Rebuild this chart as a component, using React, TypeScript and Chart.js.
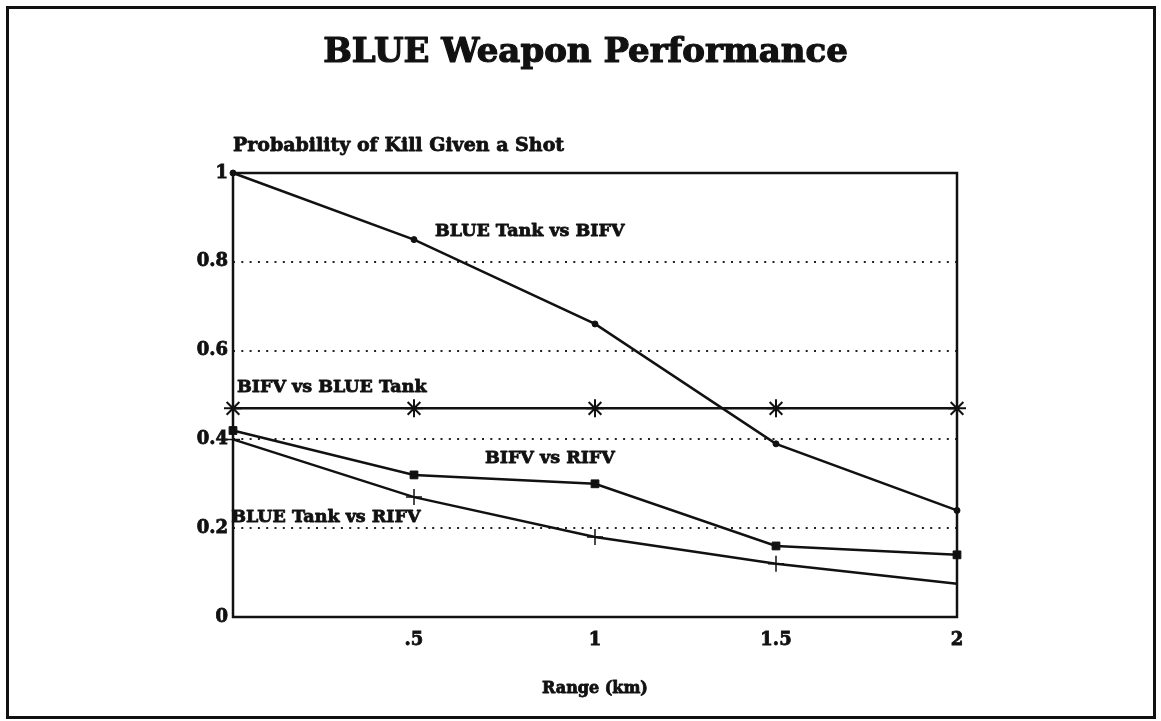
import React, { useEffect, useRef } from 'react';
import { Chart, registerables } from 'chart.js';

Chart.register(...registerables);

// ---- data ----
const ranges = [0, 0.5, 1, 1.5, 2];
const tankVsBifv = [1.0, 0.85, 0.66, 0.39, 0.24];
const bifvVsTank = [0.47, 0.47, 0.47, 0.47, 0.47];
const bifvVsRifv = [0.42, 0.32, 0.3, 0.16, 0.14];
const tankVsRifv = [0.4, 0.27, 0.18, 0.12, 0.075];
const xTickLabels = ['', '.5', '1', '1.5', '2'];
const yTickLabels = ['0', '0.2', '0.4', '0.6', '0.8', '1'];
const seriesNames = ['BLUE Tank vs BIFV', 'BIFV vs BLUE Tank', 'BIFV vs RIFV', 'BLUE Tank vs RIFV'];
// label anchors in data space (left edge, vertical middle)
const labelX = [0.558, 0.011, 0.696, -0.005];
const labelY = [0.869, 0.516, 0.356, 0.225];

const titleText = 'BLUE Weapon Performance';
const yTitleText = 'Probability of Kill Given a Shot';
const xTitleText = 'Range (km)';

const FONT = '"DejaVu Serif", "Liberation Serif", serif';
const INK = '#111111';

function heavyText(ctx: any, text: string, x: number, y: number, stroke: number) {
  ctx.lineWidth = stroke;
  ctx.lineJoin = 'round';
  ctx.strokeText(text, x, y);
  ctx.fillText(text, x, y);
}

const decorPlugin = {
  id: 'decor',
  beforeDraw(chart: any) {
    const { ctx } = chart;
    ctx.save();
    ctx.fillStyle = '#ffffff';
    ctx.fillRect(0, 0, chart.width, chart.height);
    ctx.restore();
  },
  afterDraw(chart: any) {
    const { ctx, chartArea } = chart;
    const xs = chart.scales.x;
    const ys = chart.scales.y;
    ctx.save();
    // outer border
    ctx.strokeStyle = INK;
    ctx.lineWidth = 3;
    ctx.strokeRect(7.5, 7.5, chart.width - 14, chart.height - 11);
    // plot frame
    ctx.lineWidth = 2.5;
    ctx.strokeRect(chartArea.left, chartArea.top, chartArea.right - chartArea.left, chartArea.bottom - chartArea.top);
    // title
    ctx.fillStyle = INK;
    ctx.strokeStyle = INK;
    ctx.textAlign = 'center';
    ctx.textBaseline = 'alphabetic';
    ctx.font = `bold 34px ${FONT}`;
    heavyText(ctx, titleText, chart.width / 2 + 5, 62, 1.2);
    // y title
    ctx.textAlign = 'left';
    ctx.font = `bold 19px ${FONT}`;
    heavyText(ctx, yTitleText, chartArea.left, 151, 0.8);
    // x title
    ctx.textAlign = 'center';
    ctx.font = `bold 16px ${FONT}`;
    heavyText(ctx, xTitleText, (chartArea.left + chartArea.right) / 2, 693, 0.8);
    // series labels
    ctx.textAlign = 'left';
    ctx.textBaseline = 'middle';
    ctx.font = `bold 17.5px ${FONT}`;
    seriesNames.forEach((name, i) => {
      heavyText(ctx, name, xs.getPixelForValue(labelX[i]), ys.getPixelForValue(labelY[i]), 0.8);
    });
    ctx.restore();
  },
};

export default function App() {
  const ref = useRef<HTMLCanvasElement>(null);
  useEffect(() => {
    if (!ref.current) return;
    const mk = (values: number[]) => values.map((v, i) => ({ x: ranges[i], y: v }));
    const chart = new Chart(ref.current, {
      type: 'line',
      data: {
        datasets: [
          {
            label: seriesNames[0],
            data: mk(tankVsBifv),
            borderColor: INK,
            backgroundColor: INK,
            borderWidth: 2.5,
            pointStyle: 'circle',
            pointRadius: 3,
            pointBorderWidth: 1,
            clip: false,
          },
          {
            label: seriesNames[1],
            data: mk(bifvVsTank),
            borderColor: INK,
            backgroundColor: INK,
            borderWidth: 2.5,
            pointStyle: 'star',
            pointRadius: 9,
            pointBorderWidth: 2,
            clip: false,
          },
          {
            label: seriesNames[2],
            data: mk(bifvVsRifv),
            borderColor: INK,
            backgroundColor: INK,
            borderWidth: 2.5,
            pointStyle: 'rect',
            pointRadius: 5.5,
            pointBorderWidth: 1,
            clip: false,
          },
          {
            label: seriesNames[3],
            data: mk(tankVsRifv),
            borderColor: INK,
            backgroundColor: INK,
            borderWidth: 2.5,
            pointStyle: 'cross',
            pointRadius: [7, 8, 8, 8, 0],
            pointBorderWidth: 1.5,
            clip: false,
          },
        ],
      },
      options: {
        animation: false,
        responsive: true,
        maintainAspectRatio: false,
        layout: { padding: { top: 173, right: 204, left: 0, bottom: 0 } },
        plugins: {
          legend: { display: false },
          title: { display: false },
          tooltip: { enabled: false },
        },
        scales: {
          x: {
            type: 'linear',
            min: 0,
            max: 2,
            afterFit: (s: any) => {
              s.height = 104;
            },
            grid: { display: false, drawTicks: false },
            border: { display: false },
            ticks: {
              stepSize: 0.5,
              padding: 13,
              color: INK,
              textStrokeColor: INK,
              textStrokeWidth: 0.8,
              font: { family: FONT, size: 18, weight: 'bold' },
              maxRotation: 0,
              callback: (v: any) => {
                const i = Math.round(Number(v) * 2);
                return xTickLabels[i] ?? '';
              },
            },
          },
          y: {
            type: 'linear',
            min: 0,
            max: 1,
            afterFit: (s: any) => {
              s.width = 233;
            },
            grid: {
              drawTicks: false,
              lineWidth: 2,
              color: (c: any) => {
                const v = c.tick ? c.tick.value : 0;
                return v > 0.01 && v < 0.99 ? '#222222' : 'rgba(0,0,0,0)';
              },
            },
            border: { display: false, dash: [2, 6.3] },
            ticks: {
              stepSize: 0.2,
              padding: 5,
              color: INK,
              textStrokeColor: INK,
              textStrokeWidth: 0.8,
              font: { family: FONT, size: 18, weight: 'bold' },
              callback: (v: any) => {
                const i = Math.round(Number(v) * 5);
                return yTickLabels[i] ?? '';
              },
            },
          },
        },
      },
      plugins: [decorPlugin],
    } as any);
    return () => chart.destroy();
  }, []);
  return (
    <div style={{ position: 'fixed', left: 0, top: 0, width: 1161, height: 721, background: '#fff' }}>
      <canvas ref={ref} />
    </div>
  );
}
